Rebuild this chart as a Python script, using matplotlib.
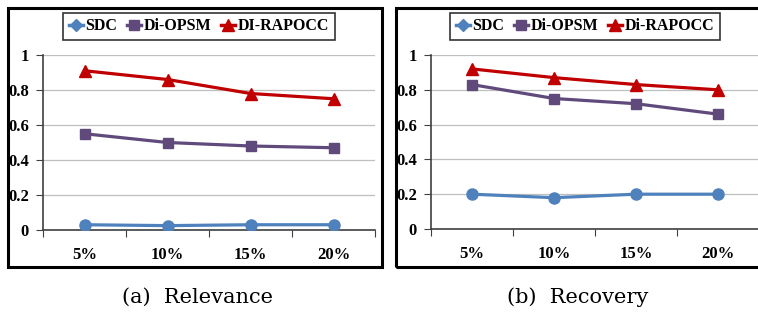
import matplotlib.pyplot as plt
from matplotlib.lines import Line2D
from matplotlib.patches import Rectangle

# data
cats = ['5%', '10%', '15%', '20%']
rel_sdc = [0.03, 0.025, 0.03, 0.03]
rel_opsm = [0.55, 0.50, 0.48, 0.47]
rel_rapocc = [0.91, 0.86, 0.78, 0.75]
rec_sdc = [0.20, 0.18, 0.20, 0.20]
rec_opsm = [0.83, 0.75, 0.72, 0.66]
rec_rapocc = [0.92, 0.87, 0.83, 0.80]

c_sdc = '#4F81BD'
c_opsm = '#604A7B'
c_rap = '#C00000'

W, H = 758, 320
fig = plt.figure(figsize=(W / 100, H / 100), dpi=100)
plt.rcParams['font.family'] = ['Liberation Serif', 'DejaVu Serif']


def px(x0, y0, x1, y1):
    # pixel box -> figure fraction [left, bottom, width, height]
    return [x0 / W, 1 - y1 / H, (x1 - x0) / W, (y1 - y0) / H]


def panel(rect, frame, sdc, opsm, rap, rap_name, caption, cap_x):
    # outer frame
    fx0, fy0, fx1, fy1 = frame
    fig.add_artist(Rectangle((fx0 / W, 1 - fy1 / H), (fx1 - fx0) / W, (fy1 - fy0) / H,
                             transform=fig.transFigure, fill=False, lw=2.2,
                             edgecolor='black'))
    ax = fig.add_axes(px(*rect))
    x = [i + 0.5 for i in range(len(cats))]
    ax.plot(x, sdc, color=c_sdc, lw=2.3, marker='o', ms=8, zorder=3)
    ax.plot(x, opsm, color=c_opsm, lw=2.3, marker='s', ms=7.5, zorder=3)
    ax.plot(x, rap, color=c_rap, lw=2.3, marker='^', ms=8.5, zorder=3)
    ax.set_xlim(0, len(cats))
    ax.set_ylim(0, 1)
    ax.set_xticks(range(len(cats) + 1))
    ax.set_xticklabels([])
    ax.set_xticks(x, minor=True)
    ax.set_xticklabels(cats, minor=True, fontsize=12, fontweight='bold')
    ax.tick_params(axis='x', which='minor', length=0, pad=12)
    ax.tick_params(axis='x', which='major', length=5, direction='out', color='#404040')
    ax.set_yticks([0, 0.2, 0.4, 0.6, 0.8, 1])
    ax.set_yticklabels(['0', '0.2', '0.4', '0.6', '0.8', '1'], fontsize=12,
                       fontweight='bold')
    ax.tick_params(axis='y', length=5, direction='out', color='#404040', pad=5)
    ax.yaxis.grid(True, color='#BFBFBF', lw=0.9)
    ax.set_axisbelow(True)
    for s in ['top', 'right']:
        ax.spines[s].set_visible(False)
    for s in ['left', 'bottom']:
        ax.spines[s].set_color('#404040')
        ax.spines[s].set_linewidth(1.2)
    ax.patch.set_alpha(0)

    handles = [Line2D([], [], color=c_sdc, lw=2.5, marker='D', ms=6),
               Line2D([], [], color=c_opsm, lw=2.5, marker='s', ms=7),
               Line2D([], [], color=c_rap, lw=2.5, marker='^', ms=8)]
    leg = ax.legend(handles, ['SDC', 'Di-OPSM', rap_name], loc='lower center',
                    bbox_to_anchor=(0.5 - 0.03, 1.04), ncol=3, frameon=True,
                    fancybox=False, edgecolor='black', handlelength=0.9,
                    handletextpad=0.15, columnspacing=0.6, borderpad=0.35,
                    prop={'weight': 'bold', 'size': 11.5})
    leg.get_frame().set_linewidth(1.2)
    fig.text(cap_x / W, 1 - 297 / H, caption, ha='center', va='center',
             fontsize=15, family=['DejaVu Serif'])
    return ax


panel((43, 55, 375, 230), (8, 8, 382, 267), rel_sdc, rel_opsm, rel_rapocc,
      'DI-RAPOCC', '(a)  Relevance', 197)
panel((431, 55, 759, 229), (396, 8, 770, 267), rec_sdc, rec_opsm, rec_rapocc,
      'Di-RAPOCC', '(b)  Recovery', 578)

fig.savefig('out.png', dpi=100)
